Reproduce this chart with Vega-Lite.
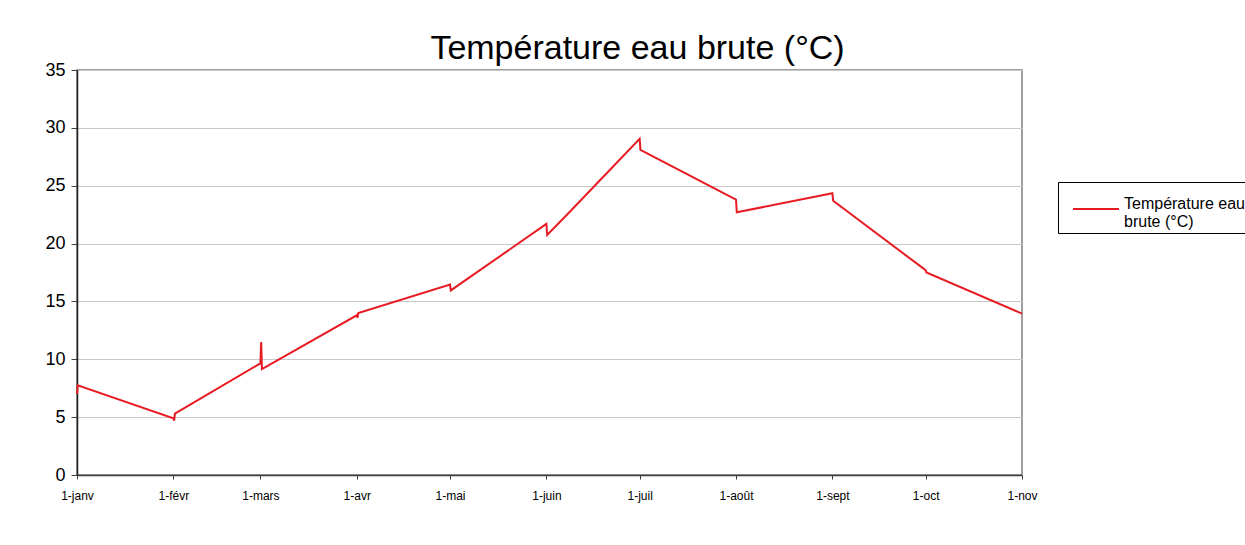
{
  "$schema": "https://vega.github.io/schema/vega-lite/v6.json",
  "width": 945,
  "height": 405,
  "autosize": "none",
  "padding": {"left": 77, "top": 70, "right": 223, "bottom": 70},
  "background": "white",
  "title": {
    "text": "Température eau brute (°C)",
    "font": "Liberation Sans",
    "fontSize": 34,
    "fontWeight": "normal",
    "color": "black",
    "anchor": "middle",
    "dx": 88,
    "baseline": "alphabetic",
    "offset": -32
  },
  "config": {
    "view": {"stroke": "#808080", "strokeWidth": 1.5},
    "axis": {"labelFont": "Liberation Sans Narrow, Liberation Sans", "labelColor": "black", "titleColor": "black"}
  },
  "data": {
    "values": [
      {"date": "2009-01-01T00:00:00Z", "temp": 7.0},
      {"date": "2009-01-01T06:00:00Z", "temp": 7.75},
      {"date": "2009-02-01T00:00:00Z", "temp": 4.9},
      {"date": "2009-02-01T06:00:00Z", "temp": 4.7},
      {"date": "2009-02-01T12:00:00Z", "temp": 5.3},
      {"date": "2009-03-01T00:00:00Z", "temp": 9.65},
      {"date": "2009-03-01T06:00:00Z", "temp": 11.5},
      {"date": "2009-03-01T12:00:00Z", "temp": 9.15},
      {"date": "2009-04-01T00:00:00Z", "temp": 13.8},
      {"date": "2009-04-01T06:00:00Z", "temp": 13.6},
      {"date": "2009-04-01T12:00:00Z", "temp": 14.0},
      {"date": "2009-05-01T00:00:00Z", "temp": 16.45},
      {"date": "2009-05-01T06:00:00Z", "temp": 15.95},
      {"date": "2009-06-01T00:00:00Z", "temp": 21.7},
      {"date": "2009-06-01T06:00:00Z", "temp": 20.75},
      {"date": "2009-06-08T00:00:00Z", "temp": 22.6},
      {"date": "2009-06-16T00:00:00Z", "temp": 24.85},
      {"date": "2009-07-01T00:00:00Z", "temp": 29.05},
      {"date": "2009-07-01T06:00:00Z", "temp": 28.1},
      {"date": "2009-08-01T00:00:00Z", "temp": 23.8},
      {"date": "2009-08-01T06:00:00Z", "temp": 22.7},
      {"date": "2009-09-01T00:00:00Z", "temp": 24.35},
      {"date": "2009-09-01T06:00:00Z", "temp": 23.7},
      {"date": "2009-10-01T00:00:00Z", "temp": 17.7},
      {"date": "2009-10-01T06:00:00Z", "temp": 17.5},
      {"date": "2009-11-01T00:00:00Z", "temp": 13.95}
    ]
  },
  "mark": {"type": "line", "strokeWidth": 2, "interpolate": "linear"},
  "encoding": {
    "x": {
      "field": "date",
      "type": "temporal",
      "scale": {
        "type": "utc",
        "nice": false,
        "domain": [
          {"year": 2009, "month": 1, "date": 1, "utc": true},
          {"year": 2009, "month": 11, "date": 1, "utc": true}
        ]
      },
      "axis": {
        "title": null,
        "grid": false,
        "values": [
          {"year": 2009, "month": 1, "date": 1, "utc": true},
          {"year": 2009, "month": 2, "date": 1, "utc": true},
          {"year": 2009, "month": 3, "date": 1, "utc": true},
          {"year": 2009, "month": 4, "date": 1, "utc": true},
          {"year": 2009, "month": 5, "date": 1, "utc": true},
          {"year": 2009, "month": 6, "date": 1, "utc": true},
          {"year": 2009, "month": 7, "date": 1, "utc": true},
          {"year": 2009, "month": 8, "date": 1, "utc": true},
          {"year": 2009, "month": 9, "date": 1, "utc": true},
          {"year": 2009, "month": 10, "date": 1, "utc": true},
          {"year": 2009, "month": 11, "date": 1, "utc": true}
        ],
        "labelExpr": "['1-janv','1-févr','1-mars','1-avr','1-mai','1-juin','1-juil','1-août','1-sept','1-oct','1-nov'][utcmonth(datum.value)]",
        "labelFontSize": 12,
        "labelPadding": 11,
        "labelFlush": false,
        "labelOverlap": false,
        "tickSize": 4,
        "tickColor": "#404040",
        "domainColor": "#404040",
        "domainWidth": 1.5
      }
    },
    "y": {
      "field": "temp",
      "type": "quantitative",
      "scale": {"domain": [0, 35], "nice": false},
      "axis": {
        "title": null,
        "values": [0, 5, 10, 15, 20, 25, 30, 35],
        "labelFont": "Liberation Sans",
        "labelFontSize": 18,
        "labelPadding": 6,
        "tickSize": 6,
        "tickColor": "#404040",
        "domainColor": "#202020",
        "domainWidth": 1.5,
        "gridColor": "#c8c8c8",
        "gridWidth": 1
      }
    },
    "color": {
      "datum": "Température eau brute (°C)",
      "type": "nominal",
      "scale": {"range": ["#e81b23"]},
      "legend": {
        "title": null,
        "orient": "none",
        "legendX": 981,
        "legendY": 112,
        "strokeColor": "black",
        "padding": 3,
        "symbolType": "stroke",
        "symbolSize": 2116,
        "symbolStrokeWidth": 2,
        "symbolOffset": 11,
        "labelOffset": 4,
        "labelBaseline": "alphabetic",
        "labelFont": "Liberation Sans",
        "labelFontSize": 16,
        "labelColor": "black",
        "labelLimit": 300,
        "labelExpr": "['Température eau', 'brute (°C)']"
      }
    }
  }
}
